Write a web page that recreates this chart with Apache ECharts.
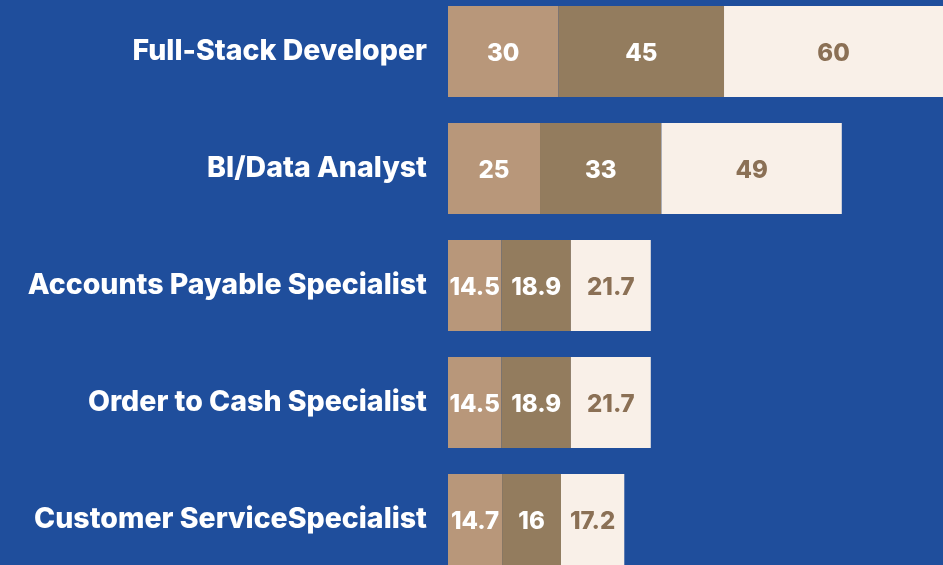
<!DOCTYPE html>
<html>
<head>
<meta charset="utf-8">
<style>
  html, body { margin: 0; padding: 0; background: #1f4e9c; overflow: hidden; }
  body { width: 943px; height: 565px; position: relative; }
  #chart { position: absolute; left: 0; top: -7px; width: 943px; height: 585px; }
</style>
<script src="https://cdn.jsdelivr.net/npm/echarts@6/dist/echarts.min.js"></script>
</head>
<body>
<div id="chart"></div>
<script>
const roles = [
  "Full-Stack Developer",
  "BI/Data Analyst",
  "Accounts Payable Specialist",
  "Order to Cash Specialist",
  "Customer ServiceSpecialist"
];
const lowValues = [30, 25, 14.5, 14.5, 14.7];
const midValues = [45, 33, 18.9, 18.9, 16];
const highValues = [60, 49, 21.7, 21.7, 17.2];

const chart = echarts.init(document.getElementById("chart"));

function seg(name, data, color, labelColor) {
  return {
    name,
    type: "bar",
    stack: "pay",
    barWidth: 91,
    data,
    itemStyle: { color },
    label: {
      show: true,
      position: "inside",
      offset: [0, 2],
      color: labelColor,
      fontFamily: "Inter",
      fontWeight: 800,
      fontSize: 24
    },
    animation: false
  };
}

chart.setOption({
  backgroundColor: "#1f4e9c",
  grid: { left: 448, right: 0, top: 0, bottom: 0 },
  xAxis: {
    type: "value",
    min: 0,
    max: 134.5,
    show: false
  },
  yAxis: {
    type: "category",
    data: roles,
    inverse: true,
    axisLine: { show: false },
    axisTick: { show: false },
    axisLabel: {
      margin: 21,
      padding: [4, 0, 0, 0],
      color: "#ffffff",
      fontFamily: "Inter",
      fontWeight: 800,
      fontSize: 28.5
    }
  },
  series: [
    seg("Low", lowValues, "#b8977a", "#ffffff"),
    seg("Mid", midValues, "#937c5e", "#ffffff"),
    seg("High", highValues, "#f9f0e8", "#8b7055")
  ]
});
</script>
</body>
</html>
